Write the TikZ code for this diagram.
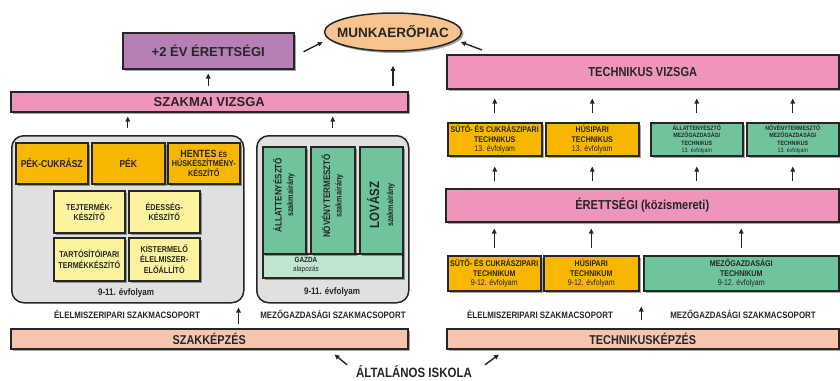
\documentclass[tikz,border=0pt]{standalone}
\usepackage{fontspec}
\setmainfont{Liberation Sans}
\newfontfamily\cond[FakeStretch=0.85]{Liberation Sans}
\usetikzlibrary{shadows,arrows.meta,calc,shapes.geometric}
\definecolor{cpurple}{RGB}{182,128,182}
\definecolor{cpeach}{RGB}{247,196,143}
\definecolor{cpink}{RGB}{239,148,186}
\definecolor{corange}{RGB}{247,182,0}
\definecolor{cyellow}{RGB}{252,243,158}
\definecolor{cgreen}{RGB}{111,196,155}
\definecolor{clgreen}{RGB}{192,229,208}
\definecolor{cgray}{RGB}{224,224,224}
\definecolor{csalmon}{RGB}{247,196,174}
\definecolor{cink}{RGB}{38,38,38}
\newcommand\fs[2]{\fontsize{#1}{#2}\selectfont}
\begin{document}
\begin{tikzpicture}[x=1pt,y=-1pt,
  bx/.style={draw=cink, line width=1.5pt, fill=#1, inner sep=1pt, align=center, text=cink, anchor=north west,
    drop shadow={shadow xshift=2pt,shadow yshift=-2pt,fill=black,opacity=0.35}},
  grp/.style={draw=cink, line width=1.5pt, fill=cgray, rounded corners=12pt, anchor=north west, inner sep=0pt},
  ell/.style={ellipse, draw=cink, line width=1.5pt, fill=cpeach, minimum width=137pt, minimum height=38pt,
    inner xsep=-14pt, inner ysep=-6pt, text=cink,
    drop shadow={shadow xshift=2pt,shadow yshift=-2pt,fill=black,opacity=0.35}},
  lbl/.style={text=cink, inner sep=0pt, align=center},
  arr/.style={line width=1.4pt, draw=cink, -{Triangle[length=5pt,width=4.5pt]}},
  big/.style={font=\fs{13}{15}\bfseries},
  bigc/.style={font=\cond\fs{13}{15}\bfseries},
  smf/.style={font=\cond\fs{8.5}{10.5}\bfseries},
  tf/.style={font=\cond\fs{8.3}{9.3}\bfseries},
  gf/.style={font=\cond\fs{6.2}{7.4}\bfseries},
]
\useasboundingbox (0,0) rectangle (840,380);

% ---------- left side ----------
\node[ell, font=\fs{13.5}{15}\bfseries] (mkp) at (393,32) {MUNKAERŐPIAC};
\node[bx=cpurple, big, minimum width=171pt, minimum height=36pt] (plus2) at (122,32) {+2 ÉV ÉRETTSÉGI};
\node[bx=cpink, big, minimum width=397pt, minimum height=20pt] (szv) at (10,91) {SZAKMAI VIZSGA};

\node[grp, minimum width=232pt, minimum height=167pt] (grpL) at (11,135) {};
\node[grp, minimum width=152pt, minimum height=167pt] (grpR) at (256,135) {};

\node[bx=corange, font=\cond\fs{10}{12}\bfseries, minimum width=72pt, minimum height=41pt] (pekc) at (15,142) {PÉK-CUKRÁSZ};
\node[bx=corange, font=\cond\fs{10}{12}\bfseries, minimum width=73pt, minimum height=41pt] (pek) at (91,142) {PÉK};
\node[bx=corange, font=\cond\fs{8.5}{9.3}\bfseries, minimum width=72pt, minimum height=41pt] (hentes) at (167,142)
  {{\fs{10.5}{11}HENTES} {\fs{7.5}{9}ÉS}\\HÚSKÉSZÍTMÉNY-\\KÉSZÍTŐ};

\node[bx=cyellow, smf, minimum width=71pt, minimum height=42pt] (tej) at (53,190) {TEJTERMÉK-\\KÉSZÍTŐ};
\node[bx=cyellow, smf, minimum width=71pt, minimum height=42pt] (edes) at (128,190) {ÉDESSÉG-\\KÉSZÍTŐ};
\node[bx=cyellow, smf, minimum width=71pt, minimum height=43pt] (tart) at (53,237) {TARTÓSÍTÓIPARI\\TERMÉKKÉSZÍTŐ};
\node[bx=cyellow, smf, minimum width=71pt, minimum height=43pt] (kist) at (128,237) {KISTERMELŐ\\ÉLELMISZER-\\ELŐÁLLÍTÓ};
\node[lbl, font=\cond\fs{9.5}{11}\bfseries] (evf1) at (126,293) {9-11. évfolyam};

\node[bx=clgreen, minimum width=140pt, minimum height=24pt] (gazda) at (262,253) {};
\node[lbl, font=\cond\fs{7.5}{9}\bfseries] (gazdat) at (306,265) {GAZDA\\\mdseries alapozás};
\node[bx=cgreen, minimum width=43pt, minimum height=107pt] (allat) at (262,146) {};
\node[bx=cgreen, minimum width=44pt, minimum height=107pt] (noveny) at (310,146) {};
\node[bx=cgreen, minimum width=43pt, minimum height=107pt] (lovasz) at (359,146) {};
\node[lbl, rotate=90, font=\cond\fs{9.5}{11.5}\bfseries] (allatt) at (284,195) {ÁLLATTENYÉSZTŐ\\\fs{8.5}{10}szakmairány};
\node[lbl, rotate=90, font=\cond\fs{9.5}{11.5}\bfseries] (novenyt) at (332.5,196) {NÖVÉNYTERMESZTŐ\\\fs{8.5}{10}szakmairány};
\node[lbl, rotate=90, font=\cond\fs{13.5}{14}\bfseries] (lovaszt) at (381,205) {LOVÁSZ\\\fs{8.5}{10}szakmairány};
\node[lbl, font=\cond\fs{9.5}{11}\bfseries] (evf2) at (332,292) {9-11. évfolyam};

\node[lbl, font=\cond\fs{9.3}{11}\bfseries] (csopL1) at (127,314) {ÉLELMISZERIPARI SZAKMACSOPORT};
\node[lbl, font=\cond\fs{9.3}{11}\bfseries] (csopL2) at (333,314) {MEZŐGAZDASÁGI SZAKMACSOPORT};
\node[bx=csalmon, font=\cond\fs{12.8}{15}\bfseries, minimum width=397pt, minimum height=20pt] (szk) at (10,328) {SZAKKÉPZÉS};

\node[lbl, font=\cond\fs{13.5}{15}\bfseries] (ai) at (414,372) {ÁLTALÁNOS ISKOLA};

% ---------- right side ----------
\node[bx=cpink, bigc, minimum width=392pt, minimum height=34pt] (tv) at (446,54) {TECHNIKUS VIZSGA};
\node[bx=corange, tf, minimum width=94pt, minimum height=33pt] (t13a) at (447,122) {SÜTŐ- ÉS CUKRÁSZIPARI\\TECHNIKUS\\\mdseries 13. évfolyam};
\node[bx=corange, tf, minimum width=93pt, minimum height=33pt] (t13b) at (545,122) {HÚSIPARI\\TECHNIKUS\\\mdseries 13. évfolyam};
\node[bx=cgreen, gf, minimum width=92pt, minimum height=33pt] (t13c) at (650,122) {ÁLLATTENYÉSZTŐ\\MEZŐGAZDASÁGI\\TECHNIKUS\\\mdseries 13. évfolyam};
\node[bx=cgreen, gf, minimum width=92pt, minimum height=33pt] (t13d) at (746,122) {NÖVÉNYTERMESZTŐ\\MEZŐGAZDASÁGI\\TECHNIKUS\\\mdseries 13. évfolyam};
\node[bx=cpink, bigc, minimum width=393pt, minimum height=33pt] (ere) at (445,188) {ÉRETTSÉGI (közismereti)};
\node[bx=corange, tf, minimum width=93pt, minimum height=35pt] (b1) at (447,255) {SÜTŐ- ÉS CUKRÁSZIPARI\\TECHNIKUM\\\mdseries 9-12. évfolyam};
\node[bx=corange, tf, minimum width=95pt, minimum height=35pt] (b2) at (543,255) {HÚSIPARI\\TECHNIKUM\\\mdseries 9-12. évfolyam};
\node[bx=cgreen, tf, minimum width=195pt, minimum height=35pt] (b3) at (643,255) {MEZŐGAZDASÁGI\\TECHNIKUM\\\mdseries 9-12. évfolyam};
\node[lbl, font=\cond\fs{9.3}{11}\bfseries] (csopR1) at (540,314) {ÉLELMISZERIPARI SZAKMACSOPORT};
\node[lbl, font=\cond\fs{9.3}{11}\bfseries] (csopR2) at (743,314) {MEZŐGAZDASÁGI SZAKMACSOPORT};
\node[bx=csalmon, font=\cond\fs{12.8}{15}\bfseries, minimum width=392pt, minimum height=20pt] (tk) at (446,328) {TECHNIKUSKÉPZÉS};

% ---------- connectors ----------
\draw[arr, shorten <=5pt, shorten >=4pt] (szv.north -| plus2.south) -- (plus2.south);
\draw[arr, shorten <=5pt, shorten >=14pt] (szv.north -| mkp.south) -- (mkp.south);
\draw[arr] ([shift={(9pt,-1pt)}]plus2.east) -- ([shift={(-1pt,-10pt)}]mkp.west);
\draw[arr] ([shift={(36pt,4pt)}]tv.north west) -- ([shift={(-1.5pt,-10pt)}]mkp.east);
\draw[arr, shorten <=7pt, shorten >=4pt] (grpL.north) -- (szv.south -| grpL.north);
\draw[arr, shorten <=7pt, shorten >=4pt] (grpR.north) -- (szv.south -| grpR.north);
\coordinate (c1) at ([xshift=-6pt]grpL.south east);
\draw[arr, shorten <=4pt, shorten >=4pt] (szk.north -| c1) -- (c1);

\foreach \n in {t13a,t13b,t13c,t13d}{
  \draw[arr, shorten <=9pt, shorten >=9pt] (\n.north) -- (tv.south -| \n.north);
  \draw[arr, shorten <=7pt, shorten >=10pt] (ere.north -| \n.south) -- (\n.south);
}
\foreach \n in {b1,b2,b3}{
  \draw[arr, shorten <=7pt, shorten >=6pt] (\n.north) -- (ere.south -| \n.north);
}
\coordinate (c2) at ($(b2.south east)!0.5!(b3.south west)$);
\draw[arr, shorten <=8pt, shorten >=15pt] (tk.north -| c2) -- (c2);

\draw[arr] ([shift={(-9pt,1pt)}]ai.north west) -- ([shift={(-74pt,-5pt)}]szk.south east);
\draw[arr] ([shift={(13pt,1pt)}]ai.north east) -- ([shift={(53pt,-5pt)}]tk.south west);
\end{tikzpicture}
\end{document}
